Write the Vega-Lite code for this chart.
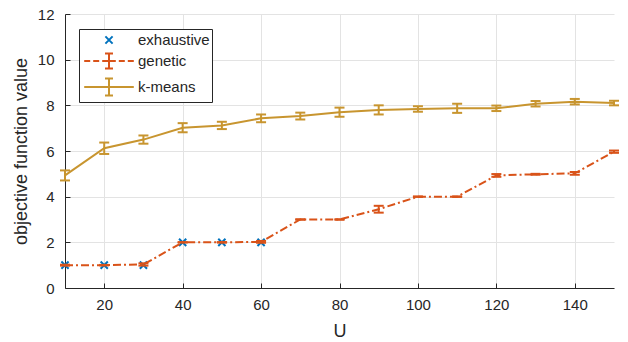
{
  "$schema": "https://vega.github.io/schema/vega-lite/v6.json",
  "width": 549,
  "height": 274,
  "autosize": {"type": "none"},
  "padding": {"left": 65, "top": 14, "right": 14, "bottom": 54},
  "background": "white",
  "config": {
    "view": {"stroke": null},
    "font": "Liberation Sans",
    "axis": {
      "labelFont": "Liberation Sans",
      "labelFontSize": 15,
      "labelColor": "#262626",
      "titleFont": "Liberation Sans",
      "titleFontSize": 18,
      "titleFontWeight": "normal",
      "titleColor": "#262626",
      "domainColor": "#262626",
      "tickColor": "#262626",
      "tickSize": -5,
      "grid": true,
      "gridColor": "#e3e3e3",
      "gridWidth": 1
    },
    "axisY": {
      "values": [0, 2, 4, 6, 8, 10, 12],
      "title": "objective function value",
      "labelPadding": 16,
      "titlePadding": 7
    },
    "legend": {
      "padding": 2,
      "rowPadding": 1,
      "labelOffset": 39,
      "symbolStrokeWidth": 2,
      "symbolSize": 256,
      "strokeColor": "#262626",
      "fillColor": "white",
      "labelFont": "Liberation Sans",
      "labelFontSize": 15,
      "labelColor": "#262626",
      "symbolOpacity": 1
    }
  },
  "data": {
    "values": [
      {"U": 10, "series": "exhaustive", "value": 1},
      {"U": 20, "series": "exhaustive", "value": 1},
      {"U": 30, "series": "exhaustive", "value": 1},
      {"U": 40, "series": "exhaustive", "value": 2},
      {"U": 50, "series": "exhaustive", "value": 2},
      {"U": 60, "series": "exhaustive", "value": 2},
      {"U": 10, "series": "genetic", "value": 1.0, "lo": 0.98, "hi": 1.02},
      {"U": 20, "series": "genetic", "value": 1.0, "lo": 0.99, "hi": 1.01},
      {"U": 30, "series": "genetic", "value": 1.03, "lo": 0.98, "hi": 1.08},
      {"U": 40, "series": "genetic", "value": 2.0, "lo": 1.99, "hi": 2.01},
      {"U": 50, "series": "genetic", "value": 2.0, "lo": 1.99, "hi": 2.01},
      {"U": 60, "series": "genetic", "value": 2.02, "lo": 1.98, "hi": 2.06},
      {"U": 70, "series": "genetic", "value": 3.0, "lo": 2.99, "hi": 3.01},
      {"U": 80, "series": "genetic", "value": 3.0, "lo": 2.99, "hi": 3.01},
      {"U": 90, "series": "genetic", "value": 3.45, "lo": 3.3, "hi": 3.6},
      {"U": 100, "series": "genetic", "value": 4.0, "lo": 3.99, "hi": 4.01},
      {"U": 110, "series": "genetic", "value": 4.0, "lo": 3.99, "hi": 4.01},
      {"U": 120, "series": "genetic", "value": 4.93, "lo": 4.87, "hi": 4.99},
      {"U": 130, "series": "genetic", "value": 4.98, "lo": 4.96, "hi": 5.0},
      {"U": 140, "series": "genetic", "value": 5.02, "lo": 4.96, "hi": 5.08},
      {"U": 150, "series": "genetic", "value": 5.97, "lo": 5.92, "hi": 6.02},
      {"U": 10, "series": "k-means", "value": 4.93, "lo": 4.71, "hi": 5.15},
      {"U": 20, "series": "k-means", "value": 6.12, "lo": 5.87, "hi": 6.37},
      {"U": 30, "series": "k-means", "value": 6.5, "lo": 6.32, "hi": 6.68},
      {"U": 40, "series": "k-means", "value": 7.02, "lo": 6.82, "hi": 7.22},
      {"U": 50, "series": "k-means", "value": 7.12, "lo": 6.96, "hi": 7.28},
      {"U": 60, "series": "k-means", "value": 7.43, "lo": 7.26, "hi": 7.6},
      {"U": 70, "series": "k-means", "value": 7.53, "lo": 7.38, "hi": 7.68},
      {"U": 80, "series": "k-means", "value": 7.7, "lo": 7.5, "hi": 7.9},
      {"U": 90, "series": "k-means", "value": 7.8, "lo": 7.6, "hi": 8.0},
      {"U": 100, "series": "k-means", "value": 7.84, "lo": 7.72, "hi": 7.96},
      {"U": 110, "series": "k-means", "value": 7.87, "lo": 7.67, "hi": 8.07},
      {"U": 120, "series": "k-means", "value": 7.87, "lo": 7.75, "hi": 7.99},
      {"U": 130, "series": "k-means", "value": 8.07, "lo": 7.95, "hi": 8.19},
      {"U": 140, "series": "k-means", "value": 8.16, "lo": 8.04, "hi": 8.28},
      {"U": 150, "series": "k-means", "value": 8.1, "lo": 8.0, "hi": 8.2}
    ]
  },
  "encoding": {
    "x": {
      "field": "U",
      "type": "quantitative",
      "scale": {"domain": [10, 150], "nice": false, "zero": false},
      "axis": {"values": [20, 40, 60, 80, 100, 120, 140], "title": "U", "labelPadding": 14, "titlePadding": 10}
    },
    "y": {
      "field": "value",
      "type": "quantitative",
      "title": "objective function value",
      "scale": {"domain": [0, 12], "nice": false}
    }
  },
  "layer": [
    {
      "transform": [{"filter": "false"}],
      "mark": {"type": "point", "filled": false, "strokeWidth": 2, "opacity": 1, "size": 256},
      "encoding": {
        "shape": {
          "field": "series",
          "type": "nominal",
          "scale": {
            "domain": ["exhaustive", "genetic", "k-means"],
            "range": [
              "M1.925,-0.45L2.825,0.45M1.925,0.45L2.825,-0.45",
              "M-0.725,0L0.025,0M0.4,0L1.15,0M1.525,0L3.225,0M3.6,0L4.35,0M4.725,0L5.475,0M2.375,-0.95L2.375,0.95M1.875,-0.95L2.875,-0.95M1.875,0.95L2.875,0.95",
              "M-0.725,0L5.475,0M2.375,-1.05L2.375,1.05M1.875,-1.05L2.875,-1.05M1.875,1.05L2.875,1.05"
            ]
          },
          "legend": {"orient": "none", "legendX": 14, "legendY": 15, "title": null}
        },
        "color": {
          "field": "series",
          "type": "nominal",
          "scale": {
            "domain": ["exhaustive", "genetic", "k-means"],
            "range": ["#0072BD", "#D95319", "#C8952F"]
          },
          "legend": {"orient": "none", "legendX": 14, "legendY": 15, "title": null}
        }
      }
    },
    {
      "transform": [{"filter": "datum.series === 'exhaustive'"}],
      "mark": {
        "type": "point",
        "shape": "M-0.45,-0.45L0.45,0.45M-0.45,0.45L0.45,-0.45",
        "size": 256,
        "filled": false,
        "strokeWidth": 2,
        "opacity": 1,
        "color": "#0072BD"
      }
    },
    {
      "transform": [{"filter": "datum.series === 'genetic'"}],
      "mark": {"type": "line", "color": "#D95319", "strokeWidth": 2, "strokeDash": [8, 3, 2, 3]}
    },
    {
      "transform": [{"filter": "datum.series === 'k-means'"}],
      "mark": {"type": "line", "color": "#C8952F", "strokeWidth": 2}
    },
    {
      "transform": [{"filter": "datum.series !== 'exhaustive'"}],
      "mark": {"type": "rule", "strokeWidth": 2},
      "encoding": {
        "y": {"field": "lo", "type": "quantitative", "title": "objective function value"},
        "y2": {"field": "hi"},
        "color": {"field": "series", "type": "nominal", "legend": null}
      }
    },
    {
      "transform": [{"filter": "datum.series !== 'exhaustive'"}],
      "mark": {"type": "tick", "orient": "horizontal", "size": 10, "thickness": 2, "opacity": 1},
      "encoding": {
        "y": {"field": "lo", "type": "quantitative", "title": "objective function value"},
        "color": {"field": "series", "type": "nominal", "legend": null}
      }
    },
    {
      "transform": [{"filter": "datum.series !== 'exhaustive'"}],
      "mark": {"type": "tick", "orient": "horizontal", "size": 10, "thickness": 2, "opacity": 1},
      "encoding": {
        "y": {"field": "hi", "type": "quantitative", "title": "objective function value"},
        "color": {"field": "series", "type": "nominal", "legend": null}
      }
    }
  ]
}
